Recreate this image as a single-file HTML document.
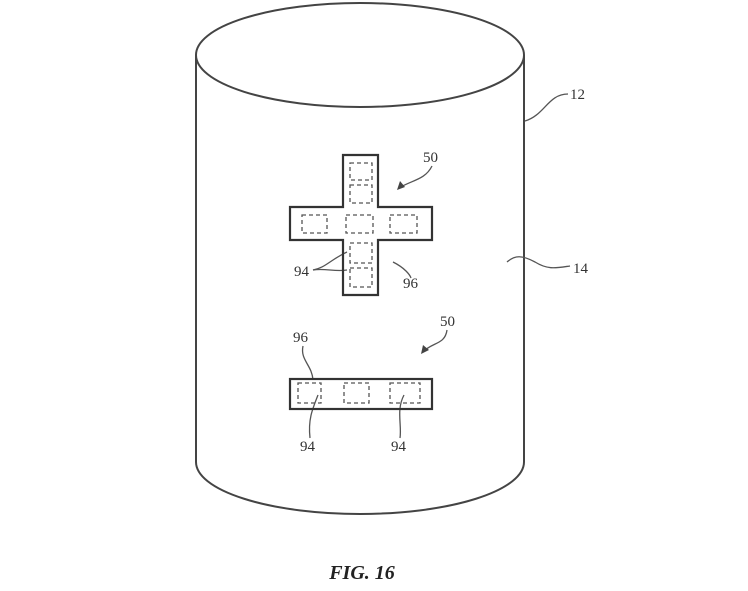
<!DOCTYPE html>
<html><head><style>
html,body{margin:0;padding:0;background:#fff;}
svg{display:block;}
text{font-family:"Liberation Serif",serif;font-size:15px;fill:#333;}
</style></head><body>
<svg width="748" height="591" viewBox="0 0 748 591" xmlns="http://www.w3.org/2000/svg">
<g fill="none" stroke="#444" stroke-width="2">
<ellipse cx="360" cy="55" rx="164" ry="52"/>
<path d="M196 55 L196 462 A164 52 0 0 0 524 462 L524 55"/>
</g>
<g fill="none" stroke="#555" stroke-width="1.3">
<path d="M525 121 C545 115 548 94 568 94"/>
<path d="M507 262 C515 255 522 255 535 262 C548 270 556 268 570 266"/>
<path d="M432 166 C425 180 412 180 399 188"/>
<path d="M447 330 C445 345 432 342 423 352"/>
<path d="M313 270 C325 268 330 260 347 252"/>
<path d="M313 270 C325 268 335 272 347 270"/>
<path d="M393 262 C405 268 410 275 411 278"/>
<path d="M303 346 C300 360 312 365 313 380"/>
<path d="M318 395 C312 410 308 420 310 438"/>
<path d="M404 395 C396 410 402 425 400 438"/>
</g>
<path d="M397 190 l3 -9 l5 6 z" fill="#444"/>
<path d="M421 354 l2 -9 l6 5 z" fill="#444"/>
<g fill="none" stroke="#333" stroke-width="2.2">
<path d="M343 155 H378 V207 H432 V240 H378 V295 H343 V240 H290 V207 H343 Z"/>
<rect x="290" y="379" width="142" height="30"/>
</g>
<g fill="none" stroke="#555" stroke-width="1.3" stroke-dasharray="4 3">
<rect x="350" y="163" width="22" height="17"/>
<rect x="350" y="185" width="22" height="18"/>
<rect x="302" y="215" width="25" height="18"/>
<rect x="346" y="215" width="27" height="18"/>
<rect x="390" y="215" width="27" height="18"/>
<rect x="350" y="243" width="22" height="20"/>
<rect x="350" y="268" width="22" height="19"/>
<rect x="298" y="383" width="23" height="20"/>
<rect x="344" y="383" width="25" height="20"/>
<rect x="390" y="383" width="30" height="20"/>
</g>
<text x="570" y="99">12</text>
<text x="573" y="273">14</text>
<text x="423" y="162">50</text>
<text x="440" y="326">50</text>
<text x="294" y="276">94</text>
<text x="403" y="288">96</text>
<text x="293" y="342">96</text>
<text x="300" y="451">94</text>
<text x="391" y="451">94</text>
<text x="362" y="579" text-anchor="middle" style="font-size:20px;font-weight:bold;font-style:italic;fill:#222">FIG. 16</text>
</svg>
</body></html>
